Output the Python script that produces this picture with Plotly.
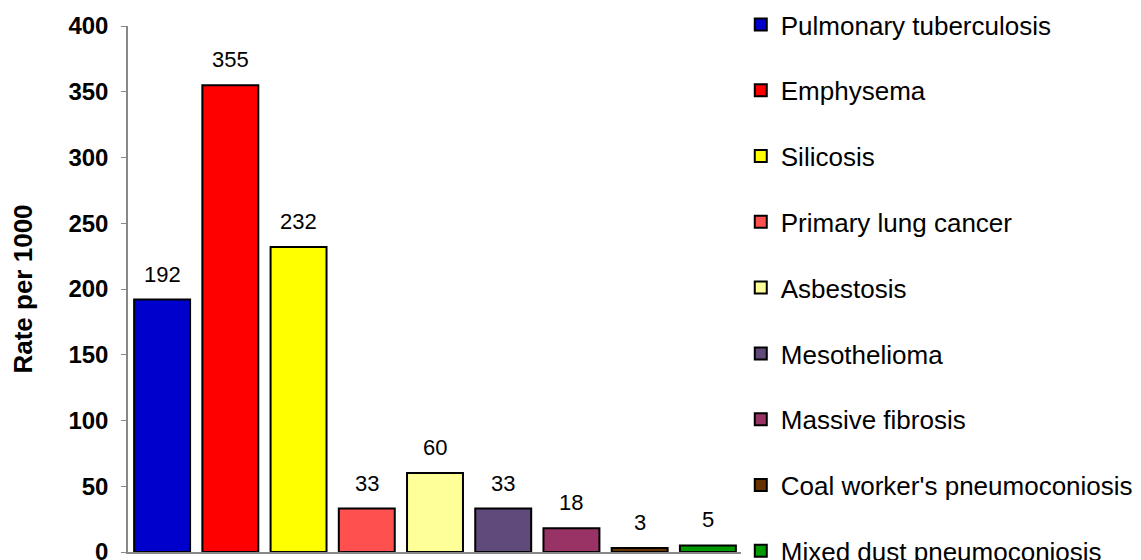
import plotly.graph_objects as go

categories = ["Pulmonary tuberculosis", "Emphysema", "Silicosis", "Primary lung cancer",
              "Asbestosis", "Mesothelioma", "Massive fibrosis",
              "Coal worker's pneumoconiosis", "Mixed dust pneumoconiosis"]
values = [192, 355, 232, 33, 60, 33, 18, 3, 5]
colors = ["#0000CC", "#FF0000", "#FFFF00", "#FF5050", "#FFFF99",
          "#604A7B", "#993366", "#663300", "#009900"]
y_ticks = [0, 50, 100, 150, 200, 250, 300, 350, 400]

FONT = "Liberation Sans, Arial, sans-serif"

fig = go.Figure()
for c, v, col in zip(categories, values, colors):
    fig.add_trace(go.Bar(
        x=[c], y=[v], name=c, legendgroup=c,
        marker=dict(color=col, line=dict(color="black", width=2)),
    ))
    fig.add_annotation(x=c, y=v, text=str(v), showarrow=False, yanchor="bottom",
                       yshift=11, font=dict(family=FONT, size=22, color="black"))

fig.update_layout(
    width=1133, height=552,
    margin=dict(l=120, r=399, t=18, b=8, autoexpand=False),
    paper_bgcolor="white", plot_bgcolor="white",
    barmode="overlay", bargap=0.18,
    font=dict(family=FONT, color="black"),
    legend=dict(x=0.998, y=1.0475, xanchor="left", yanchor="top",
                font=dict(size=26, color="black", family=FONT), tracegroupgap=29.0,
                itemwidth=30, maxheight=2000),
    showlegend=True,
)
fig.update_xaxes(showticklabels=False, showline=True, linecolor="#888888", linewidth=1.5,
                 ticks="", showgrid=False, categoryorder="array", categoryarray=categories)
fig.update_yaxes(range=[0, 400], tickvals=y_ticks, showline=True, linecolor="#888888",
                 linewidth=1.5, ticks="outside", ticklen=5, tickcolor="#888888",
                 showgrid=False, zeroline=False, ticklabeloverflow="allow",
                 ticklabelstandoff=8,
                 tickfont=dict(size=24, family=FONT, weight="bold"),
                 title=dict(text="<b>Rate per 1000</b>", font=dict(size=26), standoff=29))

fig.write_html("out.html")
